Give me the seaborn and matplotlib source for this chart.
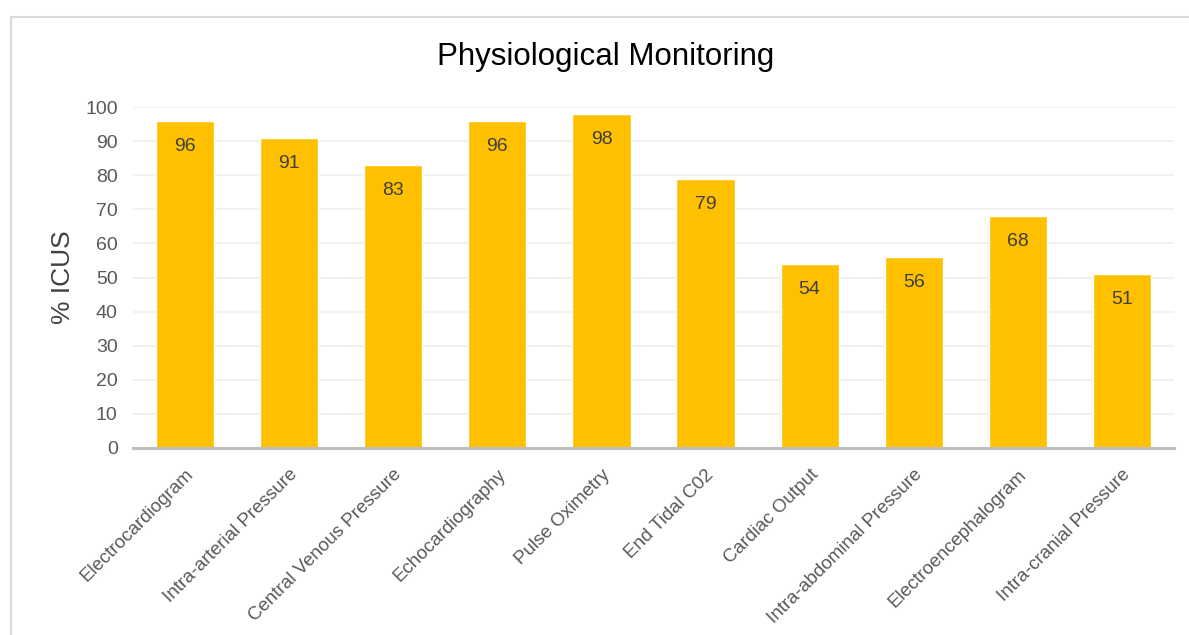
import matplotlib
matplotlib.use("Agg")
import matplotlib.pyplot as plt
import seaborn as sns
import pandas as pd
from matplotlib.patches import Rectangle

categories = ["Electrocardiogram", "Intra-arterial Pressure", "Central Venous Pressure",
              "Echocardiography", "Pulse Oximetry", "End Tidal C02", "Cardiac Output",
              "Intra-abdominal Pressure", "Electroencephalogram", "Intra-cranial Pressure"]
values = [96, 91, 83, 96, 98, 79, 54, 56, 68, 51]
yticks = [0, 10, 20, 30, 40, 50, 60, 70, 80, 90, 100]

sns.set_theme(style="white")
plt.rcParams['font.family'] = ['Liberation Sans', 'DejaVu Sans']

df = pd.DataFrame({"cat": categories, "val": values})

fig = plt.figure(figsize=(11.89, 6.35), dpi=100)
ax = fig.add_axes([133/1189, 1 - 448/635, 1041/1189, 341/635])

sns.barplot(data=df, x="cat", y="val", color="#FFC000", width=0.56,
            saturation=1, ax=ax, zorder=3)

ax.set_ylim(0, 100)
ax.set_xlim(-0.5, len(categories) - 0.5)
ax.set_yticks(yticks)
ax.set_yticklabels([str(t) for t in yticks], fontsize=14, color="#595959")
ax.yaxis.grid(True, color="#efefef", linewidth=1.2, zorder=0)
ax.xaxis.grid(False)
ax.tick_params(axis="y", length=0, pad=11)
ax.tick_params(axis="x", length=0, pad=13)
ax.set_xticks(range(len(categories)))
ax.set_xticklabels(categories, rotation=45, ha="right", rotation_mode="anchor",
                   fontsize=13.5, color="#595959")
for s in ["top", "right", "left"]:
    ax.spines[s].set_visible(False)
ax.spines["bottom"].set_color("#bfbfbf")
ax.spines["bottom"].set_linewidth(2.2)
ax.spines["bottom"].set_zorder(4)

ax.set_xlabel("")
ax.set_ylabel("% ICUS", fontsize=19, color="#404040", labelpad=7)

for i, v in enumerate(values):
    ax.text(i, v - 5.0, str(v), ha="center", va="top", fontsize=14, color="#404040",
            zorder=5)

fig.text(606/1189, 1 - 57/635, "Physiological Monitoring", ha="center", va="center",
         fontsize=22.5, color="#000000")

fig.patches.append(Rectangle((11/1189, -0.05), 1.1, 1 - 17/635 + 0.05,
                             transform=fig.transFigure, fill=False,
                             edgecolor="#d9d9d9", linewidth=1.5))

fig.savefig("out.png", dpi=100)
